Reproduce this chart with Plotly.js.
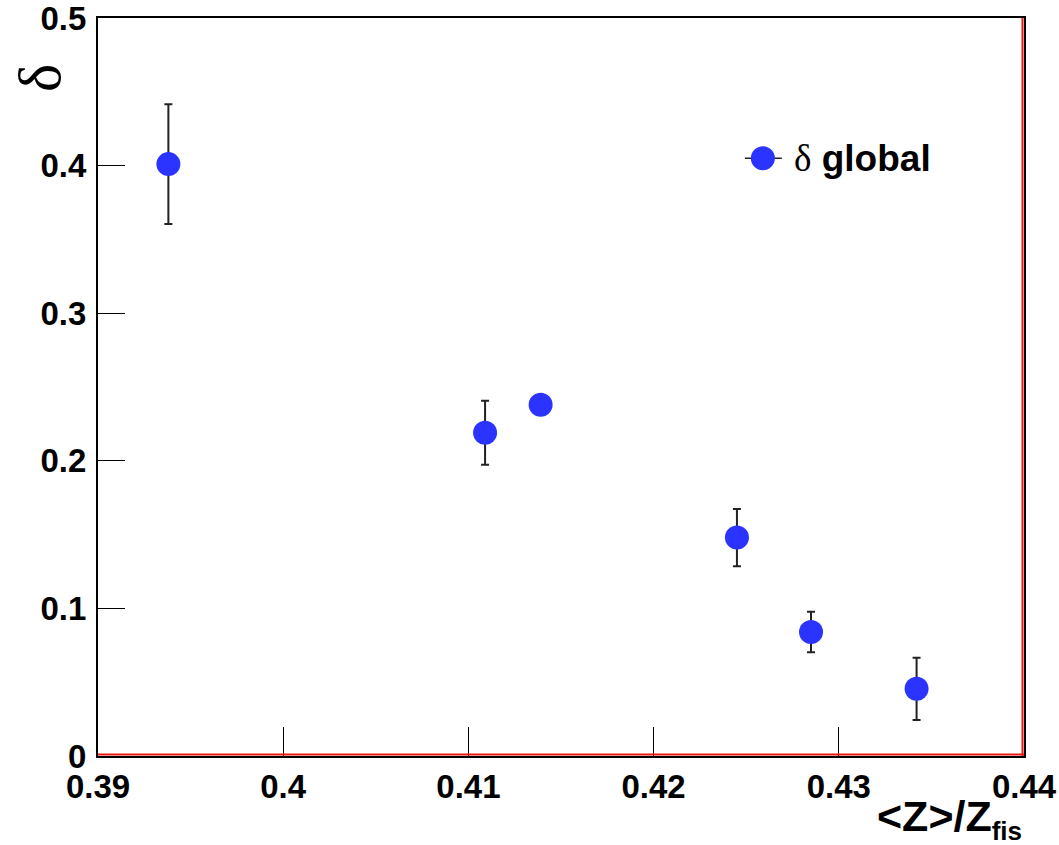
<!DOCTYPE html>
<html>
<head>
<meta charset="utf-8">
<script src="https://cdn.plot.ly/plotly-3.0.1.min.js"></script>
<style>
html,body{margin:0;padding:0;background:#fff;}
#chart{width:1059px;height:845px;}
</style>
</head>
<body>
<div id="chart"></div>
<script>
// Data
var zRatio = [0.3938, 0.4109, 0.4139, 0.4245, 0.4285, 0.4342];
var deltaGlobal = [0.401, 0.219, 0.238, 0.148, 0.084, 0.0455];
var deltaErr = [0.0405, 0.0217, 0.006, 0.0194, 0.0137, 0.0211];
var xTicks = [0.39, 0.4, 0.41, 0.42, 0.43, 0.44];
var xTickText = ['0.39', '0.4', '0.41', '0.42', '0.43', '0.44'];
var yTicks = [0, 0.1, 0.2, 0.3, 0.4, 0.5];
var yTickText = ['0', '0.1', '0.2', '0.3', '0.4', '0.5'];
var seriesName = 'δ global';

var blue = '#2b33ff';
var sans = 'Liberation Sans, Arial, Helvetica, sans-serif';
var serif = 'Liberation Serif, Times New Roman, serif';

var trace = {
  type: 'scatter',
  mode: 'markers',
  x: zRatio,
  y: deltaGlobal,
  name: seriesName,
  showlegend: false,
  marker: {color: blue, size: 24, line: {width: 0}},
  error_y: {type: 'data', array: deltaErr, symmetric: true, color: '#222', thickness: 2, width: 4}
};

var layout = {
  width: 1059,
  height: 845,
  margin: {l: 98, r: 35, t: 18, b: 89},
  paper_bgcolor: '#fff',
  plot_bgcolor: '#fff',
  showlegend: false,
  font: {family: sans, color: '#000'},
  xaxis: {
    range: [0.39, 0.44],
    tickmode: 'array', tickvals: xTicks, ticktext: xTickText,
    ticks: 'inside', ticklen: 29, tickwidth: 1, tickcolor: '#000',
    showgrid: false, zeroline: false,
    showline: true, linecolor: '#000', linewidth: 2, mirror: true,
    tickfont: {family: sans, size: 33, weight: 'bold', color: '#000'},
    ticklabelstandoff: 0, ticklabeloverflow: 'allow'
  },
  yaxis: {
    range: [0, 0.5],
    tickmode: 'array', tickvals: yTicks, ticktext: yTickText,
    ticks: 'inside', ticklen: 27, tickwidth: 1, tickcolor: '#000',
    showgrid: false, zeroline: false,
    showline: true, linecolor: '#000', linewidth: 2, mirror: true,
    tickfont: {family: sans, size: 33, weight: 'bold', color: '#000'},
    ticklabelstandoff: 3, ticklabeloverflow: 'allow'
  },
  shapes: [
    // red inner frame lines (bottom and right)
    {type: 'line', xref: 'paper', yref: 'paper', x0: 0, x1: 1, ysizemode: 'pixel', yanchor: 0, y0: 1.5, y1: 1.5,
     line: {color: '#e8160c', width: 2}, layer: 'above'},
    {type: 'line', yref: 'paper', xref: 'paper', y0: 0, y1: 1, xsizemode: 'pixel', xanchor: 1, x0: -1.5, x1: -1.5,
     line: {color: '#e8160c', width: 2}, layer: 'above'},
    // legend symbol: line + marker
    {type: 'line', xref: 'paper', yref: 'paper', xsizemode: 'pixel', xanchor: 0.718, x0: -18, x1: 19,
     y0: 0.81, y1: 0.81, line: {color: '#222', width: 1.5}},
    {type: 'circle', xref: 'paper', yref: 'paper', xsizemode: 'pixel', ysizemode: 'pixel',
     xanchor: 0.718, yanchor: 0.81, x0: -12, x1: 12, y0: -12, y1: 12,
     fillcolor: blue, line: {width: 0}}
  ],
  annotations: [
    {xref: 'paper', yref: 'paper', x: 0.749, y: 0.81, xanchor: 'left', yanchor: 'middle', showarrow: false,
     text: "<span style='font-family:" + serif + ";font-weight:normal'>δ</span> <b>global</b>",
     font: {family: sans, size: 37, color: '#000'}},
    {xref: 'paper', yref: 'paper', x: 1, y: 0, xanchor: 'right', yanchor: 'top', yshift: -34, showarrow: false,
     text: "<b>&lt;Z&gt;/Z<sub><span style='font-size:26px'>fis</span></sub></b>",
     font: {family: sans, size: 43, color: '#000'}},
    {xref: 'paper', yref: 'paper', x: 0, y: 1, xanchor: 'center', yanchor: 'top', xshift: -58, yshift: -44,
     showarrow: false, textangle: -90,
     text: 'δ', font: {family: serif, size: 60, color: '#000'}}
  ]
};

Plotly.newPlot('chart', [trace], layout, {staticPlot: true, displayModeBar: false});
</script>
</body>
</html>
